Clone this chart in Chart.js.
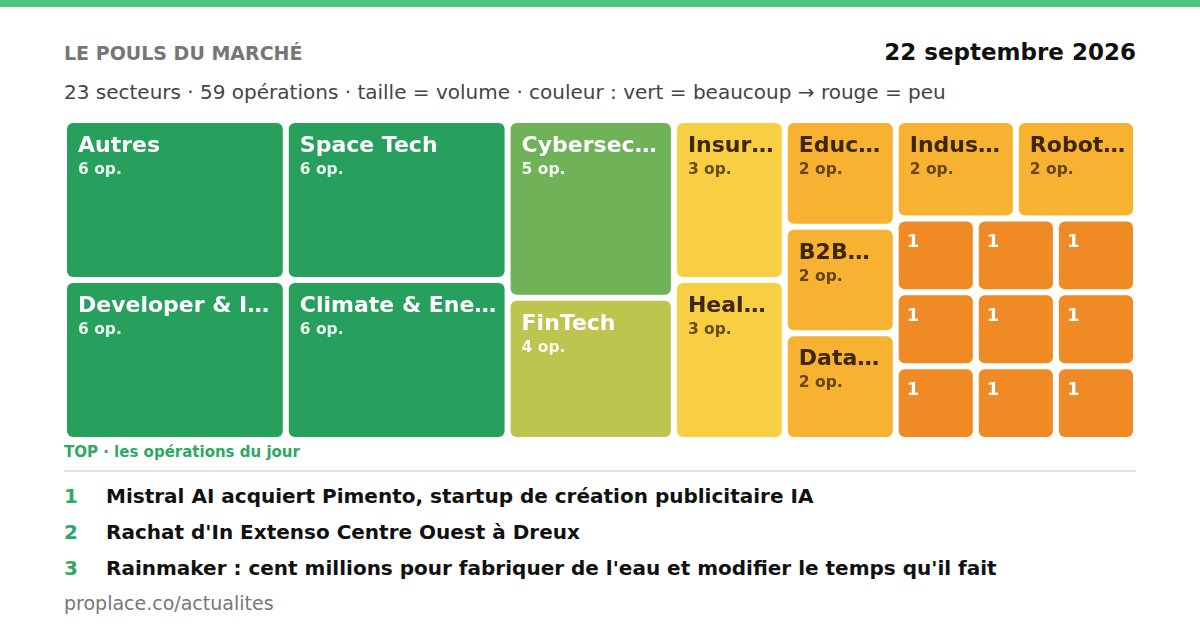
<!DOCTYPE html>
<html lang="fr">
<head>
<meta charset="utf-8">
<title>Le pouls du marché</title>
<script src="https://cdn.jsdelivr.net/npm/chart.js@4.4.1/dist/chart.umd.min.js"></script>
<style>
    html, body { margin: 0; padding: 0; background: #fff; }
    body { width: 1200px; height: 630px; position: relative; overflow: hidden; font-family: 'DejaVu Sans', sans-serif; }
    .bar { position: absolute; left: 0; top: 0; width: 1200px; height: 7px; background: #4cc880; }
    .txt { position: absolute; white-space: nowrap; }
    #title { left: 64px; top: 44px; font-size: 19px; line-height: 19px; font-weight: bold; color: #767676; }
    #date { right: 64px; top: 41px; font-size: 23px; line-height: 23px; font-weight: bold; color: #111; }
    #subtitle { left: 64px; top: 82px; font-size: 20px; line-height: 20px; color: #444; }
    #wrap { position: absolute; left: 64px; top: 120px; width: 1072px; height: 320px; }
    #top { left: 64px; top: 445px; font-size: 15px; line-height: 15px; font-weight: bold; color: #2fa866; }
    .sep { position: absolute; left: 64px; top: 470px; width: 1072px; height: 2px; background: #e2e2e2; }
    .item { left: 64px; font-size: 20px; line-height: 20px; font-weight: bold; color: #111; }
    .item .n { display: inline-block; width: 42px; color: #2fa866; }
    #footer { left: 64px; top: 594px; font-size: 19px; line-height: 19px; color: #777; }
</style>
</head>
<body>
<div class="bar"></div>
<div class="txt" id="title"></div>
<div class="txt" id="date"></div>
<div class="txt" id="subtitle"></div>
<div id="wrap"><canvas id="treemap"></canvas></div>
<div class="txt" id="top"></div>
<div class="sep"></div>
<div id="list"></div>
<div class="txt" id="footer"></div>

<script>
'use strict';

/* ---- data ---- */
const TITLE = 'LE POULS DU MARCHÉ';
const DATE_LABEL = '22 septembre 2026';
const SUBTITLE = '23 secteurs · 59 opérations · taille = volume · couleur : vert = beaucoup → rouge = peu';
const TOP_LABEL = 'TOP · les opérations du jour';
const FOOTER = 'proplace.co/actualites';

const sectors = [
    'Autres', 'Developer & Infra', 'Space Tech', 'Climate & Energy',
    'Cybersecurity', 'FinTech', 'Insurtech', 'HealthTech',
    'Education', 'B2B SaaS', 'Data & IA', 'Industrie', 'Robotique',
    'AgriTech', 'PropTech', 'LegalTech', 'MedTech', 'Mobilité',
    'Retail', 'Média', 'RH Tech', 'Gaming'
];
const operations = [6, 6, 6, 6, 5, 4, 3, 3, 2, 2, 2, 2, 2, 1, 1, 1, 1, 1, 1, 1, 1, 1];

const headlines = [
    'Mistral AI acquiert Pimento, startup de création publicitaire IA',
    "Rachat d'In Extenso Centre Ouest à Dreux",
    "Rainmaker : cent millions pour fabriquer de l'eau et modifier le temps qu'il fait"
];

/* ---- text blocks ---- */
document.getElementById('title').textContent = TITLE;
document.getElementById('date').textContent = DATE_LABEL;
document.getElementById('subtitle').textContent = SUBTITLE;
document.getElementById('top').textContent = TOP_LABEL;
document.getElementById('footer').textContent = FOOTER;

const list = document.getElementById('list');
headlines.forEach(function (h, i) {
    const d = document.createElement('div');
    d.className = 'txt item';
    d.style.top = (486 + i * 36) + 'px';
    const n = document.createElement('span');
    n.className = 'n';
    n.textContent = String(i + 1);
    d.appendChild(n);
    d.appendChild(document.createTextNode(h));
    list.appendChild(d);
});

/* ---- treemap layout (squarified) in scale units ---- */
const AREA_W = 1072;
const AREA_H = 320;

function worst(row, side) {
    const s = row.reduce((a, b) => a + b, 0);
    const mx = Math.max(...row), mn = Math.min(...row);
    return Math.max(side * side * mx / (s * s), (s * s) / (side * side * mn));
}

function squarify(values, x, y, w, h) {
    const total = values.reduce((a, b) => a + b, 0);
    const areas = values.map(v => v * w * h / total);
    const rects = [];
    let i = 0;
    while (i < areas.length) {
        const side = Math.min(w, h);
        let row = [areas[i]];
        let j = i + 1;
        while (j < areas.length) {
            const next = row.concat(areas[j]);
            if (worst(next, side) <= worst(row, side)) { row = next; j++; } else break;
        }
        const s = row.reduce((a, b) => a + b, 0);
        if (w >= h) {
            const cw = s / h;
            let cy = y;
            row.forEach(a => { const ch = a / cw; rects.push({ x0: x, y0: cy, x1: x + cw, y1: cy + ch }); cy += ch; });
            x += cw; w -= cw;
        } else {
            const rh = s / w;
            let cx = x;
            row.forEach(a => { const rw = a / rh; rects.push({ x0: cx, y0: y, x1: cx + rw, y1: y + rh }); cx += rw; });
            y += rh; h -= rh;
        }
        i = j;
    }
    return rects;
}

const order = operations.map((v, i) => i).sort((a, b) => operations[b] - operations[a] || a - b);
const rects = squarify(order.map(i => operations[i]), 0, 0, AREA_W, AREA_H);
const cells = order.map((idx, k) => Object.assign({ label: sectors[idx], value: operations[idx] }, rects[k]));

/* ---- colours: green = many -> red = few ---- */
function cellColor(v) {
    if (v >= 6) return '#27a05d';
    if (v >= 5) return '#6fb257';
    if (v >= 4) return '#bdc54f';
    if (v >= 3) return '#f8cf43';
    if (v >= 2) return '#f7b232';
    return '#ef8a25';
}
function textColor(v) {
    return (v === 3 || v === 2) ? '#3e2606' : '#ffffff';
}
function subColor(v) {
    return (v === 3 || v === 2) ? 'rgba(62, 38, 6, 0.78)' : 'rgba(255, 255, 255, 0.88)';
}

function fitText(ctx, text, maxW) {
    if (ctx.measureText(text).width <= maxW) return text;
    let t = text;
    while (t.length > 1 && ctx.measureText(t.trimEnd() + '…').width > maxW) t = t.slice(0, -1);
    return t.trimEnd() + '…';
}

const GAP = 3;
const RADIUS = 6;

const treemapPlugin = {
    id: 'treemapCells',
    afterDatasetsDraw: function (chart) {
        const { ctx, scales } = chart;
        const sx = scales.x, sy = scales.y;
        ctx.save();
        cells.forEach(function (c) {
            const left = sx.getPixelForValue(c.x0) + GAP;
            const right = sx.getPixelForValue(c.x1) - GAP;
            const top = sy.getPixelForValue(c.y0) + GAP;
            const bottom = sy.getPixelForValue(c.y1) - GAP;
            const w = right - left, h = bottom - top;

            ctx.fillStyle = cellColor(c.value);
            ctx.beginPath();
            ctx.roundRect(left, top, w, h, RADIUS);
            ctx.fill();

            ctx.textAlign = 'left';
            ctx.textBaseline = 'alphabetic';
            if (w < 90 && h < 90) {
                // small cells only show the count
                ctx.fillStyle = textColor(c.value);
                ctx.font = 'bold 18px "DejaVu Sans"';
                ctx.fillText(String(c.value), left + 8, top + 26);
                return;
            }
            ctx.fillStyle = textColor(c.value);
            ctx.font = 'bold 22px "DejaVu Sans"';
            ctx.fillText(fitText(ctx, c.label, w - 18), left + 11, top + 29);
            ctx.fillStyle = subColor(c.value);
            ctx.font = 'bold 15.5px "DejaVu Sans"';
            ctx.fillText(c.value + ' op.', left + 11, top + 51);
        });
        ctx.restore();
    }
};

new Chart(document.getElementById('treemap'), {
    type: 'scatter',
    data: {
        datasets: [{
            label: 'Opérations',
            data: cells.map(c => ({ x: (c.x0 + c.x1) / 2, y: (c.y0 + c.y1) / 2 })),
            pointRadius: 0,
            pointHoverRadius: 0
        }]
    },
    options: {
        responsive: true,
        maintainAspectRatio: false,
        animation: false,
        events: [],
        layout: { padding: 0 },
        plugins: { legend: { display: false }, tooltip: { enabled: false } },
        scales: {
            x: { type: 'linear', display: false, min: 0, max: AREA_W },
            y: { type: 'linear', display: false, min: 0, max: AREA_H, reverse: true }
        }
    },
    plugins: [treemapPlugin]
});
</script>
</body>
</html>
